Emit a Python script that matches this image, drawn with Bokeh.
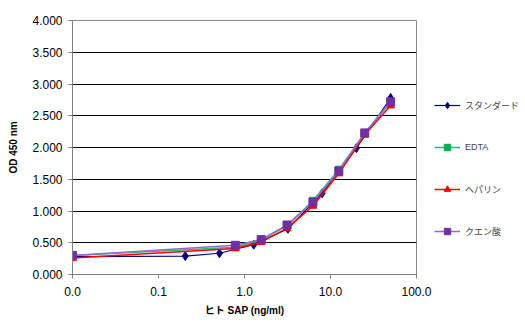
from bokeh.plotting import figure
from bokeh.models import NumeralTickFormatter, FixedTicker, Legend, LegendItem, Range1d
from bokeh.embed import file_html
from bokeh.resources import INLINE

# data (0 ng/ml plotted at 0.01 on the log axis)
std_x = [0.01, 0.2048, 0.512, 1.28, 3.2, 8.0, 20.0, 50.0]
std_y = [0.28, 0.29, 0.335, 0.47, 0.72, 1.28, 1.99, 2.78]
dil_x = [0.01, 0.78125, 1.5625, 3.125, 6.25, 12.5, 25.0, 50.0]
edta_y = [0.30, 0.43, 0.54, 0.77, 1.16, 1.65, 2.22, 2.72]
hep_y = [0.26, 0.41, 0.51, 0.73, 1.08, 1.59, 2.20, 2.66]
cit_y = [0.30, 0.46, 0.55, 0.78, 1.14, 1.63, 2.23, 2.72]
names = ["スタンダード", "EDTA", "ヘパリン", "クエン酸"]
x_ticks = [0.01, 0.1, 1, 10, 100]
y_ticks = [0, 0.5, 1, 1.5, 2, 2.5, 3, 3.5, 4]

FONT = "Liberation Sans, Noto Sans CJK JP, sans-serif"

p = figure(frame_width=344, frame_height=254, x_axis_type="log", output_backend="svg",
           toolbar_location=None, x_range=Range1d(0.01, 100), y_range=Range1d(0, 4),
           min_border_left=72, min_border_right=2, min_border_top=20, min_border_bottom=50)
p.background_fill_color = "white"
p.border_fill_color = "white"
p.outline_line_color = "#888888"

p.xgrid.grid_line_color = None
p.ygrid.grid_line_color = "#000000"
p.ygrid.ticker = FixedTicker(ticks=y_ticks)

p.xaxis.ticker = FixedTicker(ticks=x_ticks)
p.yaxis.ticker = FixedTicker(ticks=y_ticks)
p.xaxis.formatter = NumeralTickFormatter(format="0.0")
p.yaxis.formatter = NumeralTickFormatter(format="0.000")
for ax in (p.xaxis, p.yaxis):
    ax.axis_line_color = "#808080"
    ax.major_tick_line_color = "#808080"
    ax.major_tick_out = 4
    ax.major_tick_in = 0
    ax.minor_tick_line_color = None
    ax.major_label_text_font = FONT
    ax.major_label_text_font_size = "12px"
    ax.major_label_text_color = "black"
    ax.axis_label_text_font = FONT
    ax.axis_label_text_font_style = "bold"
    ax.axis_label_text_font_size = "10px"
    ax.axis_label_text_color = "black"
p.xaxis.axis_label = "ヒト SAP (ng/ml)"
p.yaxis.axis_label = "OD 450 nm"
p.xaxis.major_label_standoff = 8
p.yaxis.major_label_standoff = 6
p.xaxis.axis_label_standoff = 6
p.yaxis.axis_label_standoff = 10

r1l = p.line(std_x, std_y, color="#000080", line_width=1.2)
r1m = p.scatter(std_x, std_y, marker="diamond", size=9, color="#000080")
r2l = p.line(dil_x, edta_y, color="#2EB872", line_width=1.5)
r2m = p.scatter(dil_x, edta_y, marker="square", size=7, color="#00B050")
r3l = p.line(dil_x, hep_y, color="#FF0000", line_width=1.5)
r3m = p.scatter(dil_x, hep_y, marker="triangle", size=8, color="#FF0000")
r4l = p.line(dil_x, cit_y, color="#9966CC", line_width=1.5)
r4m = p.scatter(dil_x, cit_y, marker="square", size=8, color="#7030A0")

legend = Legend(items=[
    LegendItem(label=names[0], renderers=[r1l, r1m]),
    LegendItem(label=names[1], renderers=[r2l, r2m]),
    LegendItem(label=names[2], renderers=[r3l, r3m]),
    LegendItem(label=names[3], renderers=[r4l, r4m]),
], location=(18, 35))
legend.border_line_color = None
legend.background_fill_alpha = 0
legend.label_text_font = FONT
legend.label_text_font_size = "9px"
legend.glyph_width = 26
legend.glyph_height = 16
legend.label_height = 16
legend.spacing = 26
legend.padding = 0
legend.margin = 0
legend.label_standoff = 5
p.add_layout(legend, "right")

open("out.html", "w").write(file_html(p, INLINE))
